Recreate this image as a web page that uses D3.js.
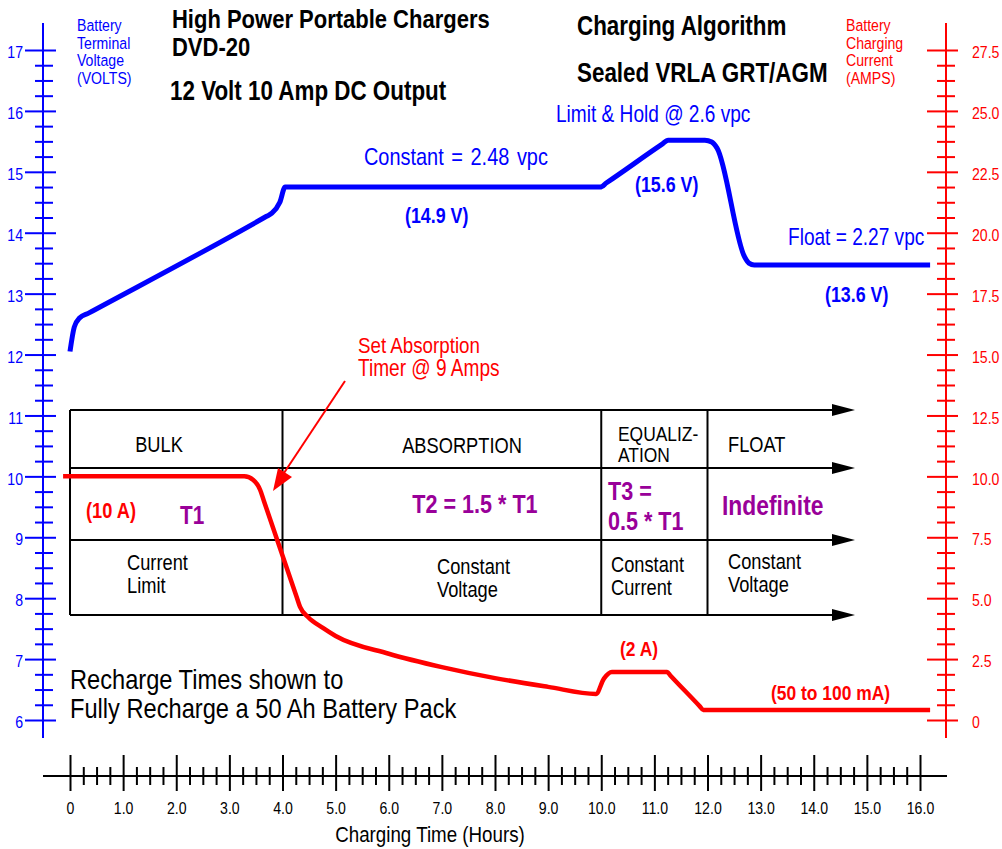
<!DOCTYPE html>
<html>
<head>
<meta charset="utf-8">
<script src="https://cdn.jsdelivr.net/npm/d3@7"></script>
<style>
  body { margin: 0; background: #fff; }
  text { font-family: "Liberation Sans", Arial, sans-serif; }
</style>
</head>
<body>
<svg width="1002" height="849"></svg>
<script>
// Battery terminal voltage curve (hours, volts)
var voltHours = [0, 0.08, 0.18, 0.35, 3.7, 3.8, 3.95, 4.05, 9.98, 10.1, 11.14, 11.26, 11.95, 12.08, 12.18, 12.7, 12.78, 12.88, 16.19]
var volts = [12.05, 12.45, 12.6, 12.68, 14.27, 14.32, 14.5, 14.75, 14.75, 14.82, 15.45, 15.52, 15.52, 15.49, 15.39, 13.6, 13.5, 13.47, 13.47]

// Charging current curve (hours, amps)
var ampHours = [-0.13, 3.28, 3.45, 3.58, 3.65, 4.26, 4.33, 4.48, 4.76, 5.0, 6.0, 7.0, 8.0, 9.0, 9.9, 10.05, 10.2, 11.24, 11.3, 11.86, 11.92, 16.19]
var amps = [10, 10, 9.85, 9.44, 8.99, 5.09, 4.64, 4.23, 3.78, 3.45, 2.72, 2.17, 1.72, 1.36, 1.07, 1.7, 1.97, 1.97, 1.83, 0.55, 0.41, 0.41]

// Axis ticks and labels
var hourTicks = d3.range(0, 17)
var hourTickLabels = ['0', '1.0', '2.0', '3.0', '4.0', '5.0', '6.0', '7.0', '8.0', '9.0', '10.0', '11.0', '12.0', '13.0', '14.0', '15.0', '16.0']
var voltTicks = d3.range(6, 18)
var voltTickLabels = ['6', '7', '8', '9', '10', '11', '12', '13', '14', '15', '16', '17']
var ampTicks = [0, 2.5, 5, 7.5, 10, 12.5, 15, 17.5, 20, 22.5, 25, 27.5]
var ampTickLabels = ['0', '2.5', '5.0', '7.5', '10.0', '12.5', '15.0', '17.5', '20.0', '22.5', '25.0', '27.5']

// Charging phases (start hour of each column)
var phaseStarts = [0, 4, 10, 12]
var phaseNames = [['BULK'], ['ABSORPTION'], ['EQUALIZ-', 'ATION'], ['FLOAT']]
var phaseTimes = [['T1'], ['T2 = 1.5 * T1'], ['T3 =', '0.5 * T1'], ['Indefinite']]
var phaseModes = [['Current', 'Limit'], ['Constant', 'Voltage'], ['Constant', 'Current'], ['Constant', 'Voltage']]

var BLUE = '#0000ff', RED = '#ff0000', PURPLE = '#990099'
var NARROW = 0.83 // the source uses a condensed face

var svg = d3.select('svg')

// Scales
var x = d3.scaleLinear().domain([0, 16]).range([70, 920])
var yV = d3.scaleLinear().domain([6, 17]).range([720, 50])
var yA = d3.scaleLinear().domain([0, 27.5]).range([720, 50])

function txt(s, px, py, size, color, weight, anchor) {
  return svg.append('text')
    .attr('x', px).attr('y', py)
    .attr('font-size', size)
    .attr('fill', color || '#000')
    .attr('font-weight', weight || 'normal')
    .attr('text-anchor', anchor || 'start')
    .text(s)
}

function lines(arr, px, py, lh, size, color, weight, anchor) {
  arr.forEach(function(s, i) { txt(s, px, py + i * lh, size, color, weight, anchor) })
}

// Left axis (volts)
var gL = svg.append('g').attr('transform', 'translate(43,0)')
gL.append('line').attr('y1', 23).attr('y2', 738)
gL.append('g').call(d3.axisLeft(yV).tickValues(d3.range(6.25, 17, 0.25).filter(function(d) { return d % 1 })).tickSize(8).tickFormat(''))
  .selectAll('.tick line').attr('x1', 10)
gL.append('g').call(d3.axisLeft(yV).tickValues(voltTicks).tickSize(18).tickPadding(2)
  .tickFormat(function(d, i) { return voltTickLabels[i] }))
  .selectAll('.tick line').attr('x1', 13)
gL.selectAll('.domain').remove()
gL.selectAll('line').attr('stroke', BLUE).attr('stroke-width', 2)
gL.selectAll('text').attr('fill', BLUE).attr('font-size', 17).attr('font-family', null).attr('dy', '0.45em')

// Right axis (amps)
var gR = svg.append('g').attr('transform', 'translate(946,0)')
gR.append('line').attr('y1', 23).attr('y2', 738)
gR.append('g').call(d3.axisRight(yA).tickValues(d3.range(0, 27.5, 0.625).filter(function(d) { return d % 2.5 })).tickSize(9).tickFormat(''))
  .selectAll('.tick line').attr('x1', -9)
gR.append('g').call(d3.axisRight(yA).tickValues(ampTicks).tickSize(12).tickPadding(14)
  .tickFormat(function(d, i) { return ampTickLabels[i] }))
  .selectAll('.tick line').attr('x1', -19)
gR.selectAll('.domain').remove()
gR.selectAll('line').attr('stroke', RED).attr('stroke-width', 2)
gR.selectAll('text').attr('fill', RED).attr('font-size', 17).attr('font-family', null).attr('dy', '0.45em')

// Bottom axis (hours)
var gB = svg.append('g').attr('transform', 'translate(0,776)')
gB.append('line').attr('x1', 43).attr('x2', 947)
gB.append('g').call(d3.axisBottom(x).tickValues(d3.range(0.25, 16, 0.25).filter(function(d) { return d % 1 })).tickSize(9).tickFormat(''))
  .selectAll('.tick line').attr('y1', -9)
gB.append('g').call(d3.axisBottom(x).tickValues(hourTicks).tickSize(15).tickPadding(11)
  .tickFormat(function(d, i) { return hourTickLabels[i] }))
  .selectAll('.tick line').attr('y1', -21)
gB.selectAll('.domain').remove()
gB.selectAll('line').attr('stroke', '#000').attr('stroke-width', 2)
gB.selectAll('text').attr('fill', '#000').attr('font-size', 17).attr('font-family', null)
txt('Charging Time (Hours)', 430, 842, 22.6, '#000', 'normal', 'middle')

// Axis titles
lines(['Battery', 'Terminal', 'Voltage', '(VOLTS)'], 77, 31, 17.7, 17, BLUE)
lines(['Battery', 'Charging', 'Current', '(AMPS)'], 846, 31, 17.7, 17, RED)

// Titles
txt('High Power Portable Chargers', 172, 28, 26.5, '#000', 'bold')
txt('DVD-20', 172, 56, 26.5, '#000', 'bold')
txt('12 Volt 10 Amp DC Output', 170, 100, 27, '#000', 'bold')
txt('Charging Algorithm', 577, 35, 27, '#000', 'bold')
txt('Sealed VRLA GRT/AGM', 577, 82, 27, '#000', 'bold')

// Phase table
var rowY = [410, 468, 540, 615]
var tableEnd = 838, arrowTip = 855
var gT = svg.append('g')
rowY.forEach(function(ry) {
  gT.append('line').attr('x1', x(0)).attr('x2', tableEnd).attr('y1', ry).attr('y2', ry)
    .attr('stroke', '#000').attr('stroke-width', 2)
  gT.append('path').attr('d', 'M' + (arrowTip - 23) + ',' + (ry - 6) + 'L' + arrowTip + ',' + ry + 'L' + (arrowTip - 23) + ',' + (ry + 6) + 'Z')
    .attr('fill', '#000')
})
gT.selectAll('.phase').data(phaseStarts).enter().append('line')
  .attr('x1', function(d) { return x(d) }).attr('x2', function(d) { return x(d) })
  .attr('y1', rowY[0]).attr('y2', rowY[3])
  .attr('stroke', '#000').attr('stroke-width', 2)

lines(phaseNames[0], 159, 452, 22, 22, '#000', 'normal', 'middle')
lines(phaseNames[1], 462, 453, 22, 22, '#000', 'normal', 'middle')
lines(phaseNames[2], 618, 441, 21, 21, '#000')
lines(phaseNames[3], 728, 452, 22, 22, '#000')

txt('(10 A)', 86, 518, 22, RED, 'bold')
lines(phaseTimes[0], 180, 524, 30, 25, PURPLE, 'bold')
lines(phaseTimes[1], 475, 513, 30, 26, PURPLE, 'bold', 'middle')
lines(phaseTimes[2], 608, 500, 30, 26, PURPLE, 'bold')
lines(phaseTimes[3], 722, 515, 30, 27.5, PURPLE, 'bold')

lines(phaseModes[0], 127, 570, 23, 22, '#000')
lines(phaseModes[1], 437, 574, 23, 22, '#000')
lines(phaseModes[2], 611, 572, 23, 22, '#000')
lines(phaseModes[3], 728, 569, 23, 22, '#000')

// Curves
var line = d3.line().curve(d3.curveMonotoneX)
svg.append('path')
  .attr('d', line(voltHours.map(function(h, i) { return [x(h), yV(volts[i])] })))
  .attr('fill', 'none').attr('stroke', BLUE).attr('stroke-width', 5)
svg.append('path')
  .attr('d', line(ampHours.map(function(h, i) { return [x(h), yA(amps[i])] })))
  .attr('fill', 'none').attr('stroke', RED).attr('stroke-width', 4.5)

// Voltage annotations
txt('Limit & Hold @ 2.6 vpc', 556, 122, 23, BLUE)
txt('Constant = 2.48 vpc', 364, 165, 24, BLUE).attr('word-spacing', 2.5)
txt('(14.9 V)', 405, 223, 21.5, BLUE, 'bold')
txt('(15.6 V)', 635, 192, 21.5, BLUE, 'bold')
txt('Float = 2.27 vpc', 788, 245, 23, BLUE)
txt('(13.6 V)', 825, 302, 21.5, BLUE, 'bold')

// Current annotations
txt('(2 A)', 620, 656, 21, RED, 'bold')
txt('(50 to 100 mA)', 771, 700, 21, RED, 'bold')
txt('Set Absorption', 358, 353, 22.6, RED)
txt('Timer @ 9 Amps', 358, 376, 23, RED)
svg.append('line').attr('x1', 345).attr('y1', 381).attr('x2', 282).attr('y2', 476)
  .attr('stroke', RED).attr('stroke-width', 2)
svg.append('path').attr('d', 'M273,491L278,468L292,477Z').attr('fill', RED)

// Note
lines(['Recharge Times shown to', 'Fully Recharge a 50 Ah Battery Pack'], 70, 689, 29, 28.5, '#000')

// condense every text horizontally around its own anchor
svg.selectAll('text').each(function() {
  var x0 = +this.getAttribute('x') || 0
  d3.select(this).attr('transform', 'translate(' + x0 * (1 - NARROW) + ',0) scale(' + NARROW + ',1)')
})
</script>
</body>
</html>
